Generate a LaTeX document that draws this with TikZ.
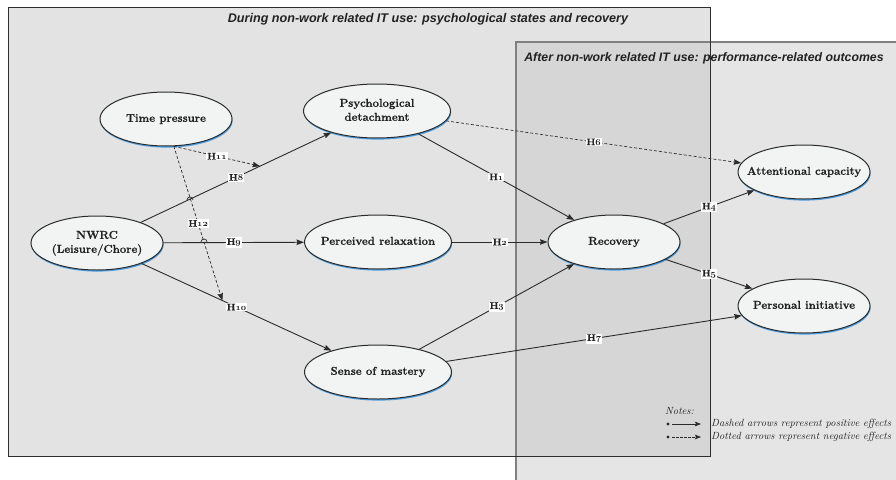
\documentclass[tikz,border=0pt]{standalone}
\usepackage{fontspec}
\newfontfamily\titlefont{Liberation Sans}
\newfontfamily\nodefont[BoldFeatures={FakeBold=0.6}]{Latin Modern Roman}
\usetikzlibrary{arrows.meta,shadows,shapes.geometric}
\definecolor{leftfill}{HTML}{E3E3E3}
\definecolor{rightfill}{HTML}{CBCBCD}
\definecolor{leftborder}{HTML}{2E2E2E}
\definecolor{rightborder}{HTML}{808080}
\definecolor{ellfill}{HTML}{F2F3F3}
\definecolor{edgecol}{HTML}{2B2B2B}
\definecolor{txt}{HTML}{222222}
\definecolor{shblue}{HTML}{4A9EE4}
\newcommand\hlab[1]{H{\boldmath$\mathnormal{#1}$}}
\newcommand\ctr[1]{\makebox[0pt]{\begin{tabular}{@{}c@{}}#1\end{tabular}}}
\begin{document}
\begin{tikzpicture}[x=1pt,y=-1pt,
  oval/.style={ellipse, draw=edgecol, line width=1pt, fill=ellfill,
    minimum width=132pt, minimum height=54pt, inner sep=1pt,
    text=txt, font=\nodefont\fontsize{11.4}{14}\selectfont\bfseries,
    drop shadow={shadow xshift=0.6pt, shadow yshift=-1.6pt, fill=shblue, opacity=1}},
  wide/.style={oval, minimum width=147pt},
  lab/.style={fill=white, inner sep=0.9pt, text=txt,
    font=\nodefont\fontsize{9.5}{10}\selectfont\bfseries},
  conn/.style={draw=edgecol, line width=0.9pt, -{Stealth[length=7.5pt,width=5.5pt,inset=1pt]}},
  dconn/.style={conn, line width=0.7pt, dash pattern=on 3pt off 2pt},
  ttl/.style={text=txt, font=\titlefont\fontsize{12.6}{14}\selectfont\bfseries\itshape},
  note/.style={text=txt, font=\fontsize{10.4}{12}\selectfont\itshape, anchor=west, inner sep=0pt}
]
\useasboundingbox (0,0) rectangle (896,479);
% group boxes
\fill[leftfill] (8,7) rectangle (710,456);
\fill[rightfill, opacity=0.5] (516,42) rectangle (900,485);
\draw[rightborder, line width=1.2pt] (516,42) rectangle (900,485);
\draw[leftborder, line width=1pt] (8,7) rectangle (710,456);
\node[ttl] (t1) at (428,19) {During non-work related IT use: psychological states and recovery};
\node[ttl, font=\titlefont\fontsize{12.3}{14}\selectfont\bfseries\itshape] (t2) at (704,58) {After non-work related IT use: performance-related outcomes};

% nodes
\node[oval] (TP) at (166,119) {\ctr{Time pressure}};
\node[wide] (PD) at (377,111) {\ctr{Psychological\\detachment}};
\node[oval] (NW) at (97,243) {\ctr{NWRC\\(Leisure/Chore)}};
\node[wide] (PR) at (378,242) {\ctr{Perceived relaxation}};
\node[wide] (SM) at (378,372) {\ctr{Sense of mastery}};
\node[oval] (RC) at (614,242) {\ctr{Recovery}};
\node[oval] (AC) at (804,172) {\ctr{Attentional capacity}};
\node[oval] (PI) at (804,306) {\ctr{Personal initiative}};

% connectors
\draw[conn] (NW) -- coordinate[pos=0.626] (m8) node[lab, pos=0.5] (l8) {\hlab{8}} (PD);
\draw[conn] (NW) -- node[lab, pos=0.5] (l9) {\hlab{9}} (PR);
\draw[conn] (NW) -- coordinate[pos=0.426] (m10) node[lab, pos=0.5] (l10) {\hlab{10}} (SM);
\draw[conn] (PD) -- node[lab] (l1) {\hlab{1}} (RC);
\draw[conn] (PR) -- node[lab] (l2) {\hlab{2}} (RC);
\draw[conn] (SM) -- node[lab] (l3) {\hlab{3}} (RC);
\draw[conn] (RC) -- node[lab] (l4) {\hlab{4}} (AC);
\draw[conn] (RC) -- node[lab] (l5) {\hlab{5}} (PI);
\draw[conn] (SM) -- node[lab] (l7) {\hlab{7}} (PI);
\draw[dconn] (PD) -- node[lab] (l6) {\hlab{6}} (AC);
\coordinate (tps) at (TP.-74);
\draw[dconn] (tps) -- node[lab] (l11) {\hlab{11}} (m8);
\draw[dconn] (tps) -- node[lab] (l12) {\hlab{12}} (m10);
% line hops
\draw[edgecol, line width=0.7pt] (187,200) arc[start angle=180, end angle=0, radius=3pt];
\draw[edgecol, line width=0.7pt] (201,242) arc[start angle=180, end angle=0, radius=3pt];

% legend
\node[note] (nt) at (665,411) {Notes:};
\fill[edgecol] (668,424) circle (1.6pt) coordinate (b1);
\fill[edgecol] (668,437) circle (1.6pt) coordinate (b2);
\coordinate (e1) at (701,424);
\coordinate (e2) at (701,437);
\draw[draw=edgecol, line width=0.6pt, -{Stealth[length=6pt,width=4.5pt,inset=1pt]}] ([xshift=4pt]b1) -- (e1);
\draw[draw=edgecol, line width=0.6pt, dash pattern=on 2.5pt off 1.5pt, -{Stealth[length=6pt,width=4.5pt,inset=1pt]}] ([xshift=4pt]b2) -- (e2);
\node[note] (n1) at (711,424) {Dashed arrows represent positive effects};
\node[note] (n2) at (711,437) {Dotted arrows represent negative effects};
\end{tikzpicture}
\end{document}
